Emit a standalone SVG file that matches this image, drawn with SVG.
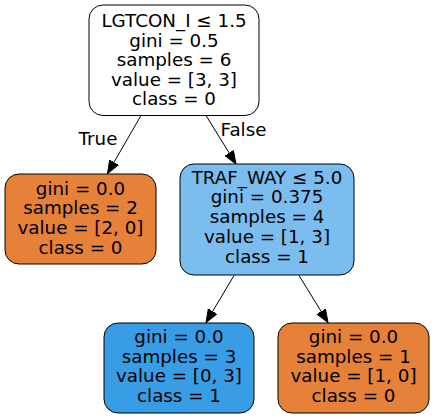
<svg xmlns="http://www.w3.org/2000/svg" width="435" height="419" viewBox="0 0 435 419">
<defs>
<style>
.n{stroke:#000;stroke-width:1}
text{font-family:"DejaVu Sans",sans-serif;font-size:18.3px;fill:#000;text-anchor:middle}
.e{stroke:#000;stroke-width:1;fill:none;marker-end:url(#a)}
</style>
<marker id="a" markerUnits="userSpaceOnUse" markerWidth="14" markerHeight="12" refX="13" refY="5" orient="auto" viewBox="0 0 14 10">
<path d="M0,0 L13,5 L0,10 Z" fill="#000" stroke="#000"/>
</marker>
</defs>
<rect width="435" height="419" fill="#fff"/>
<g id="connectors">
<path class="e" d="M141,115.5 L107.5,173.5"/>
<text x="98" y="145">True</text>
<path class="e" d="M206,115.5 L236,164"/>
<text x="243.5" y="136">False</text>
<path class="e" d="M234,275.5 L206,322.5"/>
<path class="e" d="M299,275.5 L328,322.5"/>
</g>
<g id="node0">
<rect class="n" x="89" y="5" width="170" height="110.5" rx="14" fill="#ffffff"/>
<text x="174" y="27">LGTCON_I ≤ 1.5</text>
<text x="174" y="46.5">gini = 0.5</text>
<text x="174" y="66">samples = 6</text>
<text x="174" y="85.5">value = [3, 3]</text>
<text x="174" y="105">class = 0</text>
</g>
<g id="node1">
<rect class="n" x="5" y="174" width="151" height="90" rx="14" fill="#e58139"/>
<text x="80.5" y="194.5">gini = 0.0</text>
<text x="80.5" y="214.2">samples = 2</text>
<text x="80.5" y="234">value = [2, 0]</text>
<text x="80.5" y="253.7">class = 0</text>
</g>
<g id="node2">
<rect class="n" x="180" y="164" width="174" height="111" rx="14" fill="#7bbdee"/>
<text x="267" y="183.5">TRAF_WAY ≤ 5.0</text>
<text x="267" y="203.2">gini = 0.375</text>
<text x="267" y="223">samples = 4</text>
<text x="267" y="242.7">value = [1, 3]</text>
<text x="267" y="262.5">class = 1</text>
</g>
<g id="node3">
<rect class="n" x="104" y="323" width="150" height="90" rx="14" fill="#399de5"/>
<text x="179" y="343">gini = 0.0</text>
<text x="179" y="362.7">samples = 3</text>
<text x="179" y="382.4">value = [0, 3]</text>
<text x="179" y="402.1">class = 1</text>
</g>
<g id="node4">
<rect class="n" x="278" y="323" width="151" height="90" rx="14" fill="#e58139"/>
<text x="353.5" y="343">gini = 0.0</text>
<text x="353.5" y="362.7">samples = 1</text>
<text x="353.5" y="382.4">value = [1, 0]</text>
<text x="353.5" y="402.1">class = 0</text>
</g>
</svg>
